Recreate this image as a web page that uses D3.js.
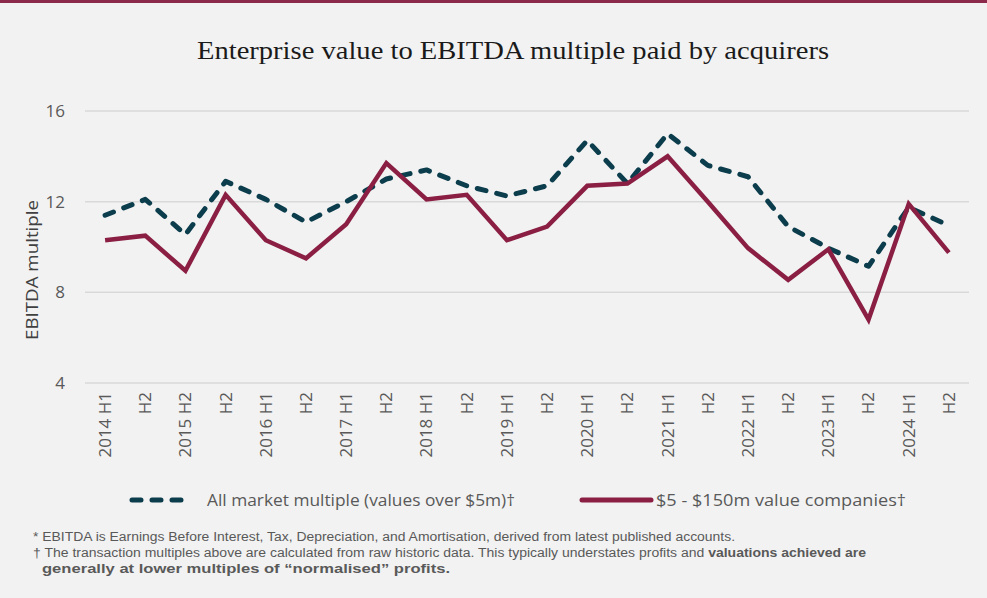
<!DOCTYPE html>
<html><head><meta charset="utf-8">
<script src="https://cdn.jsdelivr.net/npm/d3@7"></script>
<style>
html,body{margin:0;padding:0;background:#f2f2f2;}
svg{display:block;}
</style></head>
<body>
<script>
const categories = ["2014 H1","H2","2015 H2","H2","2016 H1","H2","2017 H1","H2","2018 H1","H2","2019 H1","H2","2020 H1","H2","2021 H1","H2","2022 H1","H2","2023 H1","H2","2024 H1","H2"];
const allMarket = [11.4,12.1,10.55,12.9,12.1,11.1,12.0,13.0,13.4,12.7,12.25,12.7,14.7,12.8,15.0,13.6,13.1,10.9,9.95,9.15,11.75,10.95];
const smallCo  = [10.3,10.5,8.95,12.3,10.3,9.5,11.0,13.7,12.1,12.3,10.3,10.9,12.7,12.8,14.0,12.0,9.95,8.55,9.9,6.8,11.9,9.75];
const yTicks = [4,8,12,16];
const seriesNames = ["All market multiple (values over $5m)\u2020","$5 - $150m value companies\u2020"];

const W=987,H=598;
const svg=d3.select("body").append("svg").attr("width",W).attr("height",H);
svg.append("rect").attr("width",W).attr("height",H).attr("fill","#f2f2f2");
svg.append("rect").attr("x",0).attr("y",0).attr("width",W).attr("height",3).attr("fill","#8c2a4b");

svg.append("text").attr("x",513).attr("y",59).attr("text-anchor","middle")
  .attr("font-family","'Liberation Serif','DejaVu Serif',serif").attr("font-size",26).attr("fill","#1a1a1a")
  .attr("textLength",632).attr("lengthAdjust","spacingAndGlyphs")
  .text("Enterprise value to EBITDA multiple paid by acquirers");

const idx=d3.range(categories.length);
const x=d3.scaleBand().domain(idx).range([85,969]).paddingInner(0).paddingOuter(0);
const y=d3.scaleLinear().domain([4,16]).range([383,111]);
const font="'Open Sans','Noto Sans',sans-serif";

// grid
svg.append("g").selectAll("line").data(yTicks).join("line")
  .attr("x1",85).attr("x2",969).attr("y1",d=>y(d)).attr("y2",d=>y(d))
  .attr("stroke","#d9d9d9").attr("stroke-width",1.5);

// y axis
const ya=svg.append("g").attr("transform","translate(85,0)")
  .call(d3.axisLeft(y).tickValues(yTicks).tickSize(0).tickPadding(20));
ya.select(".domain").remove();
ya.selectAll("text").attr("font-family",font).attr("font-size",17).attr("fill","#595959");

svg.append("text").attr("transform","translate(38,270) rotate(-90)").attr("text-anchor","middle")
  .attr("font-family",font).attr("font-size",17).attr("fill","#404040")
  .attr("textLength",140).attr("lengthAdjust","spacingAndGlyphs").text("EBITDA multiple");

// x axis
const xa=svg.append("g").attr("transform","translate(0,383)")
  .call(d3.axisBottom(x).tickSize(0).tickPadding(0).tickFormat(i=>categories[i]));
xa.select(".domain").remove();
xa.selectAll("text").attr("font-family",font).attr("font-size",17).attr("fill","#595959")
  .attr("transform","rotate(-90)").attr("text-anchor","end").attr("dy","0.35em").attr("x",-9).attr("y",0);

const line=d3.line().x((d,i)=>x(i)+x.bandwidth()/2).y(d=>y(d));
svg.append("path").datum(allMarket).attr("d",line).attr("fill","none")
  .attr("stroke","#0b3d4c").attr("stroke-width",5).attr("stroke-dasharray","9,11").attr("stroke-linecap","round").attr("stroke-linejoin","round");
svg.append("path").datum(smallCo).attr("d",line).attr("fill","none")
  .attr("stroke","#8a1f43").attr("stroke-width",4.5).attr("stroke-linejoin","miter");

// legend
const lg=svg.append("g");
lg.append("line").attr("x1",132).attr("x2",188).attr("y1",500).attr("y2",500)
  .attr("stroke","#0b3d4c").attr("stroke-width",5).attr("stroke-dasharray","9,11").attr("stroke-linecap","round");
lg.append("text").attr("x",207).attr("y",506).attr("font-family",font).attr("font-size",17).attr("fill","#595959")
  .attr("textLength",308).attr("lengthAdjust","spacingAndGlyphs").text(seriesNames[0]);
lg.append("line").attr("x1",582).attr("x2",651).attr("y1",500).attr("y2",500)
  .attr("stroke","#8a1f43").attr("stroke-width",5).attr("stroke-linecap","round");
lg.append("text").attr("x",656).attr("y",506).attr("font-family",font).attr("font-size",17).attr("fill","#595959")
  .attr("textLength",250).attr("lengthAdjust","spacingAndGlyphs").text(seriesNames[1]);

// footnotes
const fn=svg.append("g").attr("font-family","'Liberation Sans','Noto Sans',sans-serif").attr("font-size",12).attr("fill","#595959");
fn.append("text").attr("x",33).attr("y",541).attr("textLength",702).attr("lengthAdjust","spacingAndGlyphs")
  .text("* EBITDA is Earnings Before Interest, Tax, Depreciation, and Amortisation, derived from latest published accounts.");
const t2=fn.append("text").attr("x",33).attr("y",557).attr("textLength",833).attr("lengthAdjust","spacingAndGlyphs");
t2.append("tspan").text("\u2020 The transaction multiples above are calculated from raw historic data. This typically understates profits and ");
t2.append("tspan").attr("font-weight","bold").text("valuations achieved are");
fn.append("text").attr("x",42).attr("y",573).attr("font-weight","bold").attr("textLength",408).attr("lengthAdjust","spacingAndGlyphs")
  .text("generally at lower multiples of \u201cnormalised\u201d profits.");
</script>
</body></html>
